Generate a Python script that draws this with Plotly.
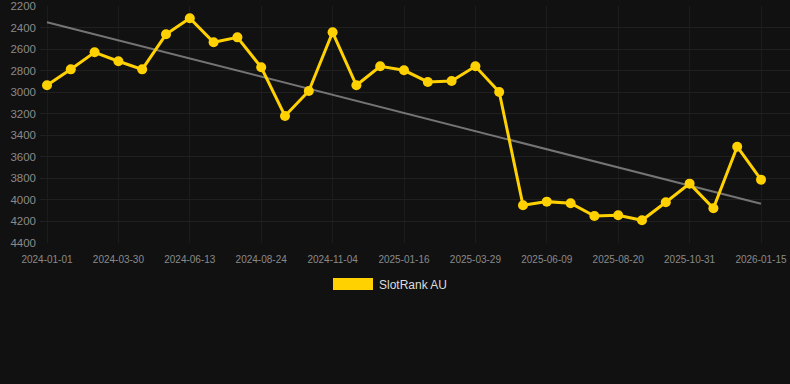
import numpy as np
import plotly.graph_objects as go

dates = [
    "2024-01-01", "2024-01-31", "2024-03-01", "2024-03-30", "2024-04-24", "2024-05-19",
    "2024-06-13", "2024-07-07", "2024-07-31", "2024-08-24", "2024-09-17", "2024-10-11",
    "2024-11-04", "2024-11-28", "2024-12-23", "2025-01-16", "2025-02-09", "2025-03-05",
    "2025-03-29", "2025-04-22", "2025-05-16", "2025-06-09", "2025-07-03", "2025-07-27",
    "2025-08-20", "2025-09-13", "2025-10-07", "2025-10-31", "2025-11-25", "2025-12-20",
    "2026-01-15",
]
ranks = [
    2936, 2788, 2630, 2713, 2788, 2463, 2314, 2537, 2491, 2769,
    3221, 2989, 2444, 2936, 2760, 2797, 2905, 2896, 2760, 2998,
    4050, 4016, 4031, 4149, 4143, 4189, 4022, 3849, 4078, 3506,
    3812,
]
tick_labels = dates[::3]
y_ticks = [2200, 2400, 2600, 2800, 3000, 3200, 3400, 3600, 3800, 4000, 4200, 4400]
series_name = "SlotRank AU"

idx = np.arange(len(ranks))
slope, intercept = np.polyfit(idx, ranks, 1)
trend = slope * idx + intercept

YELLOW = "#FFD100"
BG = "#111111"

fig = go.Figure()
fig.add_trace(go.Scatter(
    x=dates, y=trend, mode="lines",
    line=dict(color="rgba(150,150,150,0.75)", width=2),
    showlegend=False, hoverinfo="skip",
))
fig.add_trace(go.Scatter(
    x=dates, y=ranks, mode="lines+markers", name=series_name,
    line=dict(color=YELLOW, width=3),
    marker=dict(color=YELLOW, size=10),
    showlegend=False,
))

# legend drawn as swatch + label
fig.add_shape(type="rect", xref="paper", yref="paper",
              x0=(333 - 40) / 750, x1=(373 - 40) / 750,
              y0=(243 - 290) / 237, y1=(243 - 278) / 237,
              fillcolor=YELLOW, line=dict(width=0))
fig.add_annotation(text=series_name, xref="paper", yref="paper",
                   x=(377 - 40) / 750, y=(243 - 284.5) / 237,
                   xanchor="left", yanchor="middle", showarrow=False,
                   font=dict(family="Liberation Sans, Arial, sans-serif", size=12, color="#dddddd"))

fig.update_layout(
    width=790, height=384,
    margin=dict(l=40, r=0, t=6, b=141),
    paper_bgcolor=BG, plot_bgcolor=BG,
    font=dict(family="Liberation Sans, Arial, sans-serif", color="#8a8a8a"),
    showlegend=False,
)
fig.update_xaxes(
    type="category", categoryorder="array", categoryarray=dates,
    range=[-7 / 23.8, 30 + 29 / 23.8],
    tickmode="array", tickvals=tick_labels, ticktext=tick_labels,
    tickfont=dict(size=10, color="#8a8a8a"),
    showgrid=True, gridcolor="#1c1c1c", gridwidth=1,
    showline=False, zeroline=False, ticks="", ticklen=0,
    ticklabelstandoff=9,
)
fig.update_yaxes(
    range=[4400, 2200], tickmode="array", tickvals=y_ticks,
    tickfont=dict(size=11.5, color="#8a8a8a"),
    showgrid=True, gridcolor="#202020", gridwidth=1,
    zeroline=False, showline=False, ticks="", ticklabelstandoff=3,
)

fig.write_html("out.html")
